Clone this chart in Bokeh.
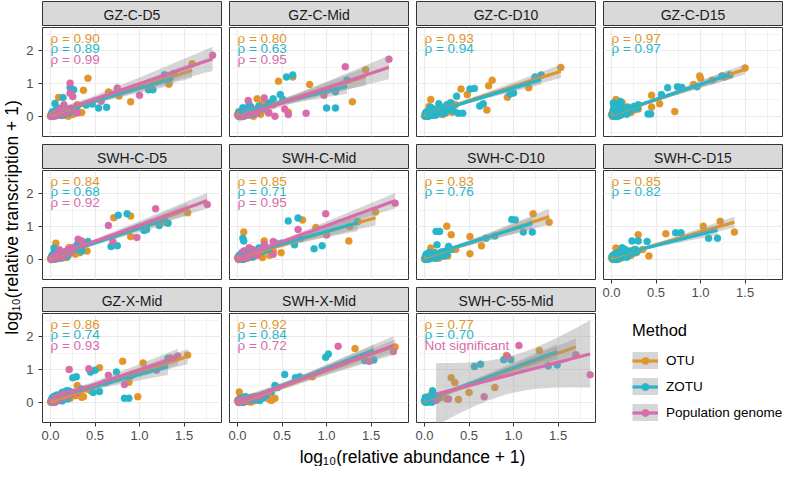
import math
import numpy as np
from bokeh.plotting import figure
from bokeh.models import (Range1d, FixedTicker, LinearAxis, Grid, Label, Legend,
                          LegendItem, NumeralTickFormatter)
from bokeh.layouts import row, column
from bokeh.embed import file_html
from bokeh.resources import INLINE

# ---------------- data ----------------
METHODS = ["OTU", "ZOTU", "Population genome"]
COLORS = ["#E3952A", "#27B5CA", "#D86BA9"]

X_TICKS = [0, 0.5, 1.0, 1.5]
X_MINOR = [0.25, 0.75, 1.25, 1.75]
Y_TICKS = [0, 1, 2]
Y_MINOR = [-0.5, 0.5, 1.5, 2.5]

# GZ-C-D5
GZ_C_D5_OTU_X = [1.59, 0.42, 0.65, 0.77, 0.90, 1.33, 0.37, 0.09, 0.35, 0.17, 0.00, 0.15, 0.05, 0.12, 0.20, 0.25, 0.03, 0.08, 0.30,
                 0.01, 0.02, 0.04, 0.06, 0.07, 0.10, 0.11, 0.13, 0.16, 0.18, 0.22, 0.26,
                 0.00, 0.01, 0.02, 0.02, 0.03, 0.04, 0.05, 0.06, 0.08, 0.09, 0.11, 0.14, 0.17, 0.21, 0.24]
GZ_C_D5_OTU_Y = [1.60, 1.16, 0.74, 0.62, 0.44, 0.98, 0.79, 0.57, 0.11, 0.03, 0.00, 0.27, 0.05, 0.10, 0.00, 0.05, 0.10, 0.20, 0.35,
                 0.03, 0.08, 0.02, 0.12, 0.04, 0.06, 0.15, 0.02, 0.09, 0.18, 0.10, 0.14,
                 0.01, 0.04, 0.00, 0.10, 0.06, 0.02, 0.09, 0.14, 0.05, 0.11, 0.07, 0.16, 0.12, 0.19, 0.22]
GZ_C_D5_ZOTU_X = [1.28, 1.38, 1.10, 1.15, 0.54, 0.63, 0.47, 0.40, 0.22, 0.26, 0.23, 0.05, 0.14, 0.04, 0.10, 0.17, 0.02, 0.08, 0.30, 0.12,
                  0.01, 0.03, 0.05, 0.06, 0.09, 0.11, 0.13, 0.15, 0.19, 0.21, 0.24, 0.28,
                  0.01, 0.01, 0.02, 0.03, 0.04, 0.05, 0.05, 0.07, 0.08, 0.10, 0.12, 0.13, 0.16, 0.19, 0.23]
GZ_C_D5_ZOTU_Y = [1.27, 1.30, 0.81, 0.81, 0.25, 0.27, 0.37, 0.34, 0.88, 0.81, 0.72, 0.39, 0.57, 0.13, 0.05, 0.17, 0.02, 0.25, 0.30, 0.10,
                  0.05, 0.00, 0.08, 0.18, 0.03, 0.12, 0.22, 0.06, 0.15, 0.10, 0.20, 0.25,
                  0.00, 0.07, 0.13, 0.03, 0.09, 0.01, 0.16, 0.05, 0.12, 0.08, 0.18, 0.04, 0.14, 0.10, 0.24]
GZ_C_D5_POP_X = [1.82, 0.22, 0.75, 1.00, 0.57, 0.22, 0.10, 0.05, 0.15, 0.30, 0.02, 0.25, 0.03, 0.07, 0.09, 0.12, 0.18, 0.20,
                 0.01, 0.04, 0.06, 0.08, 0.11, 0.14, 0.17, 0.23]
GZ_C_D5_POP_Y = [1.86, 1.01, 0.86, 0.64, 0.46, 0.70, 0.20, 0.08, 0.35, 0.10, 0.02, 0.60, 0.06, 0.02, 0.12, 0.08, 0.10, 0.22,
                 0.00, 0.05, 0.09, 0.04, 0.14, 0.10, 0.16, 0.20]
GZ_C_D5_RHO = ["0.90", "0.89", "0.99"]

# GZ-C-Mid
GZ_C_MID_OTU_X = [1.44, 1.29, 0.81, 0.46, 0.62, 0.22, 0.28, 0.57, 0.18, 0.02, 0.01, 0.30, 0.10, 0.14, 0.05, 0.40, 0.35,
                  0.03, 0.04, 0.06, 0.08, 0.12, 0.16, 0.20, 0.24, 0.26, 0.33,
                  0.00, 0.01, 0.03, 0.03, 0.04, 0.06, 0.07, 0.07, 0.09, 0.10, 0.12, 0.15, 0.18, 0.20, 0.26]
GZ_C_MID_OTU_Y = [1.42, 0.44, 0.97, 1.07, 1.20, 0.53, 0.38, 0.12, 0.00, 0.02, 0.13, 0.30, 0.05, 0.20, 0.08, 0.35, 0.12,
                  0.05, 0.15, 0.02, 0.10, 0.08, 0.03, 0.12, 0.25, 0.06, 0.18,
                  0.05, 0.00, 0.02, 0.12, 0.07, 0.04, 0.00, 0.15, 0.09, 0.03, 0.13, 0.08, 0.17, 0.11, 0.20]
GZ_C_MID_ZOTU_X = [1.23, 1.10, 1.00, 1.10, 0.55, 0.62, 0.48, 0.40, 0.51, 0.06, 0.13, 0.24, 0.03, 0.10, 0.18, 0.30, 0.35,
                   0.01, 0.02, 0.05, 0.07, 0.09, 0.12, 0.15, 0.20, 0.22, 0.27,
                   0.01, 0.02, 0.02, 0.04, 0.05, 0.06, 0.06, 0.08, 0.09, 0.11, 0.13, 0.15, 0.17, 0.22, 0.29]
GZ_C_MID_ZOTU_Y = [1.10, 0.75, 0.25, 0.25, 1.20, 1.26, 0.66, 0.53, 0.51, 0.26, 0.36, 0.31, 0.10, 0.15, 0.20, 0.25, 0.40,
                   0.02, 0.12, 0.05, 0.20, 0.08, 0.04, 0.28, 0.10, 0.18, 0.22,
                   0.03, 0.00, 0.08, 0.11, 0.04, 0.00, 0.13, 0.07, 0.17, 0.05, 0.10, 0.14, 0.06, 0.18, 0.24]
GZ_C_MID_POP_X = [1.70, 1.21, 0.97, 0.77, 0.57, 0.42, 0.53, 0.30, 0.12, 0.05, 0.20, 0.08, 0.15, 0.25, 0.35,
                  0.01, 0.03, 0.06, 0.10, 0.13, 0.17, 0.22, 0.27]
GZ_C_MID_POP_Y = [1.74, 1.51, 0.64, 0.09, 0.05, 0.00, 0.22, 0.56, 0.48, 0.05, 0.15, 0.10, 0.05, 0.20, 0.10,
                  0.02, 0.06, 0.00, 0.12, 0.08, 0.18, 0.10, 0.25]
GZ_C_MID_RHO = ["0.80", "0.63", "0.95"]

# GZ-C-D10
GZ_C_D10_OTU_X = [1.53, 1.17, 0.93, 0.70, 0.76, 0.72, 0.41, 0.48, 0.07, 0.29, 0.31, 0.10, 0.22, 0.02, 0.05, 0.15, 0.35, 0.18,
                  0.01, 0.03, 0.04, 0.06, 0.08, 0.09, 0.12, 0.14, 0.17, 0.20, 0.24, 0.27,
                  0.00, 0.01, 0.02, 0.02, 0.03, 0.04, 0.05, 0.06, 0.08, 0.09, 0.11, 0.14, 0.17, 0.21, 0.24]
GZ_C_D10_OTU_Y = [1.49, 0.87, 0.58, 0.19, 1.10, 0.93, 0.83, 0.66, 0.51, 0.41, 0.12, 0.05, 0.18, 0.02, 0.30, 0.10, 0.35, 0.25,
                  0.05, 0.12, 0.00, 0.08, 0.20, 0.03, 0.15, 0.07, 0.12, 0.05, 0.10, 0.22,
                  0.01, 0.04, 0.00, 0.10, 0.06, 0.02, 0.09, 0.14, 0.05, 0.11, 0.07, 0.16, 0.12, 0.19, 0.22]
GZ_C_D10_ZOTU_X = [1.31, 1.24, 1.00, 0.96, 0.66, 0.62, 0.43, 0.38, 0.51, 0.56, 0.36, 0.16, 0.02, 0.18, 0.07, 0.25, 0.12, 0.04, 0.30,
                   0.01, 0.03, 0.05, 0.06, 0.08, 0.10, 0.11, 0.14, 0.20, 0.22, 0.28, 0.33,
                   0.01, 0.01, 0.02, 0.03, 0.04, 0.05, 0.05, 0.07, 0.08, 0.10, 0.12, 0.13, 0.16, 0.19, 0.23]
GZ_C_D10_ZOTU_Y = [1.26, 1.20, 0.71, 0.68, 0.38, 0.31, 0.09, 0.09, 0.83, 0.85, 0.61, 0.38, 0.02, 0.17, 0.27, 0.35, 0.10, 0.15, 0.40,
                   0.08, 0.00, 0.05, 0.18, 0.10, 0.22, 0.03, 0.15, 0.25, 0.08, 0.20, 0.15,
                   0.00, 0.07, 0.13, 0.03, 0.09, 0.01, 0.16, 0.05, 0.12, 0.08, 0.18, 0.04, 0.14, 0.10, 0.24]
GZ_C_D10_RHO = ["0.93", "0.94"]

# GZ-C-D15
GZ_C_D15_OTU_X = [1.50, 1.27, 1.13, 0.99, 1.00, 0.92, 0.45, 0.54, 0.45, 0.71, 0.24, 0.05, 0.12, 0.08, 0.02, 0.18, 0.30,
                  0.01, 0.02, 0.03, 0.04, 0.06, 0.07, 0.09, 0.10, 0.13, 0.15, 0.22, 0.26,
                  0.00, 0.01, 0.03, 0.03, 0.04, 0.06, 0.07, 0.07, 0.09, 0.10, 0.12, 0.15, 0.18, 0.20, 0.26]
GZ_C_D15_OTU_Y = [1.47, 1.20, 1.10, 1.23, 1.16, 0.97, 0.64, 0.38, 0.28, 0.14, 0.19, 0.51, 0.41, 0.18, 0.02, 0.25, 0.22,
                  0.10, 0.05, 0.25, 0.00, 0.12, 0.30, 0.05, 0.20, 0.10, 0.15, 0.12, 0.30,
                  0.05, 0.00, 0.02, 0.12, 0.07, 0.04, 0.00, 0.15, 0.09, 0.03, 0.13, 0.08, 0.17, 0.11, 0.20]
GZ_C_D15_ZOTU_X = [1.33, 1.24, 0.96, 0.74, 0.79, 0.63, 0.56, 0.41, 0.44, 0.03, 0.05, 0.09, 0.16, 0.02, 0.20, 0.10,
                   0.01, 0.02, 0.04, 0.05, 0.06, 0.08, 0.11, 0.13, 0.14, 0.18, 0.25, 0.30,
                   0.01, 0.02, 0.02, 0.04, 0.05, 0.06, 0.06, 0.08, 0.09, 0.11, 0.13, 0.15, 0.17, 0.22, 0.29]
GZ_C_D15_ZOTU_Y = [1.26, 1.23, 0.90, 0.90, 0.88, 0.87, 0.66, 0.07, 0.07, 0.31, 0.12, 0.02, 0.22, 0.40, 0.15, 0.45,
                   0.05, 0.20, 0.10, 0.30, 0.00, 0.15, 0.25, 0.08, 0.18, 0.28, 0.30, 0.35,
                   0.03, 0.00, 0.08, 0.11, 0.04, 0.00, 0.13, 0.07, 0.17, 0.05, 0.10, 0.14, 0.06, 0.18, 0.24]
GZ_C_D15_RHO = ["0.97", "0.97"]

# SWH-C-D5
SWH_C_D5_OTU_X = [1.54, 0.90, 0.71, 0.90, 1.28, 0.41, 0.21, 0.06, 0.28, 0.01, 0.12, 0.18, 0.04, 0.35,
                  0.02, 0.03, 0.05, 0.07, 0.08, 0.10, 0.14, 0.16, 0.20, 0.24, 0.30, 0.33,
                  0.00, 0.01, 0.02, 0.02, 0.03, 0.04, 0.05, 0.06, 0.08, 0.09, 0.11, 0.14, 0.17, 0.21, 0.24]
SWH_C_D5_OTU_Y = [1.42, 0.69, 1.27, 1.32, 1.13, 0.25, 0.36, 0.49, 0.15, 0.00, 0.10, 0.05, 0.20, 0.30,
                  0.02, 0.08, 0.00, 0.12, 0.05, 0.20, 0.08, 0.15, 0.12, 0.22, 0.28, 0.20,
                  0.01, 0.04, 0.00, 0.10, 0.06, 0.02, 0.09, 0.14, 0.05, 0.11, 0.07, 0.16, 0.12, 0.19, 0.22]
SWH_C_D5_ZOTU_X = [0.76, 0.86, 1.05, 1.08, 1.22, 1.32, 0.68, 0.75, 0.42, 0.35, 0.04, 0.02, 0.08, 0.15, 0.25, 0.10, 0.30,
                   0.01, 0.03, 0.05, 0.06, 0.07, 0.09, 0.12, 0.13, 0.18, 0.21, 0.27, 0.32,
                   0.01, 0.01, 0.02, 0.03, 0.04, 0.05, 0.05, 0.07, 0.08, 0.10, 0.12, 0.13, 0.16, 0.19, 0.23]
SWH_C_D5_ZOTU_Y = [1.34, 1.39, 0.88, 0.91, 1.03, 1.10, 0.39, 0.41, 0.54, 0.25, 0.34, 0.05, 0.20, 0.15, 0.30, 0.10, 0.45,
                   0.00, 0.10, 0.05, 0.25, 0.15, 0.02, 0.08, 0.22, 0.18, 0.30, 0.35, 0.28,
                   0.00, 0.07, 0.13, 0.03, 0.09, 0.01, 0.16, 0.05, 0.12, 0.08, 0.18, 0.04, 0.14, 0.10, 0.24]
SWH_C_D5_POP_X = [1.76, 1.18, 0.97, 0.65, 0.31, 0.35, 0.70, 0.10, 0.15, 0.03, 0.20, 0.05, 0.08, 0.12, 0.18, 0.25,
                  0.01, 0.02, 0.04, 0.07, 0.11, 0.14, 0.19, 0.23]
SWH_C_D5_POP_Y = [1.67, 1.54, 0.66, 1.03, 0.61, 0.56, 0.54, 0.29, 0.20, 0.05, 0.30, 0.10, 0.15, 0.05, 0.25, 0.35,
                  0.00, 0.04, 0.08, 0.03, 0.12, 0.09, 0.18, 0.22]
SWH_C_D5_RHO = ["0.84", "0.68", "0.92"]

# SWH-C-Mid
SWH_C_MID_OTU_X = [0.07, 1.55, 1.25, 1.26, 0.88, 0.73, 0.49, 0.30, 0.22, 0.28, 0.02, 0.10, 0.15, 0.40,
                   0.01, 0.03, 0.04, 0.06, 0.08, 0.11, 0.13, 0.17, 0.19, 0.25, 0.33, 0.36,
                   0.00, 0.01, 0.03, 0.03, 0.04, 0.06, 0.07, 0.07, 0.09, 0.10, 0.12, 0.15, 0.18, 0.20, 0.26]
SWH_C_MID_OTU_Y = [0.83, 1.44, 0.56, 1.00, 0.97, 1.20, 0.20, 0.56, 0.26, 0.05, 0.00, 0.10, 0.30, 0.25,
                   0.05, 0.00, 0.10, 0.18, 0.03, 0.12, 0.05, 0.20, 0.10, 0.15, 0.30, 0.12,
                   0.05, 0.00, 0.02, 0.12, 0.07, 0.04, 0.00, 0.15, 0.09, 0.03, 0.13, 0.08, 0.17, 0.11, 0.20]
SWH_C_MID_ZOTU_X = [0.06, 0.07, 0.57, 0.68, 1.35, 0.86, 0.95, 0.64, 0.49, 0.71, 0.24, 0.03, 0.12, 0.18, 0.35, 0.42,
                    0.01, 0.02, 0.04, 0.05, 0.08, 0.09, 0.10, 0.14, 0.16, 0.20, 0.28, 0.31,
                    0.01, 0.02, 0.02, 0.04, 0.05, 0.06, 0.06, 0.08, 0.09, 0.11, 0.13, 0.15, 0.17, 0.22, 0.29]
SWH_C_MID_ZOTU_Y = [0.64, 0.56, 1.17, 1.26, 1.15, 0.32, 0.41, 0.44, 0.49, 0.64, 0.34, 0.05, 0.15, 0.25, 0.30, 0.50,
                    0.02, 0.12, 0.05, 0.20, 0.08, 0.25, 0.15, 0.10, 0.30, 0.18, 0.28, 0.40,
                    0.03, 0.00, 0.08, 0.11, 0.04, 0.00, 0.13, 0.07, 0.17, 0.05, 0.10, 0.14, 0.06, 0.18, 0.24]
SWH_C_MID_POP_X = [1.77, 0.99, 1.00, 0.68, 0.40, 0.40, 0.07, 0.13, 0.03, 0.20, 0.30, 0.05, 0.10, 0.16, 0.22, 0.26,
                   0.01, 0.02, 0.04, 0.08, 0.11, 0.14, 0.18, 0.24]
SWH_C_MID_POP_Y = [1.71, 1.39, 0.74, 0.91, 0.54, 0.15, 0.25, 0.35, 0.10, 0.20, 0.45, 0.15, 0.05, 0.30, 0.12, 0.28,
                   0.02, 0.00, 0.06, 0.10, 0.04, 0.13, 0.16, 0.21]
SWH_C_MID_RHO = ["0.85", "0.71", "0.95"]

# SWH-C-D10
SWH_C_D10_OTU_X = [1.22, 1.40, 0.25, 0.30, 0.51, 0.64, 0.51, 0.07, 0.02, 0.22, 0.12, 0.35, 0.18,
                   0.01, 0.03, 0.04, 0.05, 0.06, 0.08, 0.09, 0.10, 0.14, 0.16, 0.20, 0.26,
                   0.00, 0.01, 0.02, 0.02, 0.03, 0.04, 0.05, 0.06, 0.08, 0.09, 0.11, 0.14, 0.17, 0.21, 0.24]
SWH_C_D10_OTU_Y = [1.39, 1.13, 1.01, 0.75, 0.69, 0.41, 0.17, 0.34, 0.05, 0.10, 0.20, 0.30, 0.15,
                   0.00, 0.10, 0.04, 0.15, 0.02, 0.08, 0.20, 0.05, 0.12, 0.03, 0.18, 0.10,
                   0.01, 0.04, 0.00, 0.10, 0.06, 0.02, 0.09, 0.14, 0.05, 0.11, 0.07, 0.16, 0.12, 0.19, 0.22]
SWH_C_D10_ZOTU_X = [0.98, 1.02, 1.11, 1.21, 0.79, 0.69, 0.13, 0.17, 0.14, 0.27, 0.02, 0.22, 0.05, 0.10, 0.30, 0.25,
                    0.01, 0.02, 0.03, 0.04, 0.06, 0.07, 0.09, 0.11, 0.12, 0.15, 0.19, 0.24,
                    0.01, 0.01, 0.02, 0.03, 0.04, 0.05, 0.05, 0.07, 0.08, 0.10, 0.12, 0.13, 0.16, 0.19, 0.23]
SWH_C_D10_ZOTU_Y = [1.21, 1.20, 0.83, 0.83, 0.71, 0.64, 0.85, 0.85, 0.44, 0.39, 0.10, 0.10, 0.20, 0.05, 0.30, 0.15,
                    0.05, 0.15, 0.00, 0.10, 0.20, 0.08, 0.12, 0.18, 0.03, 0.10, 0.22, 0.15,
                    0.00, 0.07, 0.13, 0.03, 0.09, 0.01, 0.16, 0.05, 0.12, 0.08, 0.18, 0.04, 0.14, 0.10, 0.24]
SWH_C_D10_RHO = ["0.83", "0.76"]

# SWH-C-D15
SWH_C_D15_OTU_X = [1.22, 1.38, 1.03, 0.61, 0.30, 0.25, 0.42, 0.05, 0.03, 0.16, 0.10, 0.20, 0.35,
                   0.01, 0.02, 0.04, 0.05, 0.07, 0.08, 0.10, 0.12, 0.14, 0.18, 0.22, 0.28,
                   0.00, 0.01, 0.03, 0.03, 0.04, 0.06, 0.07, 0.07, 0.09, 0.10, 0.12, 0.15, 0.18, 0.20, 0.26]
SWH_C_D15_OTU_Y = [1.16, 0.83, 1.01, 0.78, 0.75, 0.29, 0.10, 0.34, 0.05, 0.20, 0.10, 0.15, 0.30,
                   0.02, 0.12, 0.06, 0.18, 0.00, 0.10, 0.22, 0.05, 0.15, 0.08, 0.12, 0.20,
                   0.05, 0.00, 0.02, 0.12, 0.07, 0.04, 0.00, 0.15, 0.09, 0.03, 0.13, 0.08, 0.17, 0.11, 0.20]
SWH_C_D15_ZOTU_X = [0.72, 0.78, 1.09, 1.19, 0.23, 0.30, 0.40, 0.16, 0.02, 0.08, 0.12, 0.05, 0.25,
                    0.01, 0.03, 0.04, 0.06, 0.07, 0.09, 0.10, 0.13, 0.15, 0.18, 0.20, 0.27,
                    0.01, 0.02, 0.02, 0.04, 0.05, 0.06, 0.06, 0.08, 0.09, 0.11, 0.13, 0.15, 0.17, 0.22, 0.29]
SWH_C_D15_ZOTU_Y = [0.81, 0.81, 0.64, 0.64, 0.56, 0.56, 0.54, 0.25, 0.05, 0.15, 0.35, 0.00, 0.20,
                    0.10, 0.02, 0.15, 0.08, 0.20, 0.05, 0.18, 0.12, 0.30, 0.10, 0.25, 0.30,
                    0.03, 0.00, 0.08, 0.11, 0.04, 0.00, 0.13, 0.07, 0.17, 0.05, 0.10, 0.14, 0.06, 0.18, 0.24]
SWH_C_D15_RHO = ["0.85", "0.82"]

# GZ-X-Mid
GZ_X_MID_OTU_X = [1.54, 0.81, 1.04, 0.98, 0.88, 0.55, 0.30, 0.37, 0.33, 0.01, 0.10, 0.20, 0.45, 0.40,
                  0.02, 0.03, 0.05, 0.06, 0.08, 0.12, 0.14, 0.16, 0.22, 0.25, 0.28, 0.35,
                  0.00, 0.01, 0.02, 0.02, 0.03, 0.04, 0.05, 0.06, 0.08, 0.09, 0.11, 0.14, 0.17, 0.21, 0.24]
GZ_X_MID_OTU_Y = [1.44, 1.25, 1.20, 0.17, 0.61, 1.05, 0.51, 0.17, 0.25, 0.00, 0.10, 0.20, 0.35, 0.40,
                  0.02, 0.08, 0.00, 0.12, 0.05, 0.15, 0.08, 0.18, 0.12, 0.25, 0.20, 0.15,
                  0.01, 0.04, 0.00, 0.10, 0.06, 0.02, 0.09, 0.14, 0.05, 0.11, 0.07, 0.16, 0.12, 0.19, 0.22]
GZ_X_MID_ZOTU_X = [0.90, 0.83, 0.88, 0.74, 0.50, 0.45, 0.29, 0.25, 0.55, 0.48, 0.05, 0.10, 0.15, 0.20, 0.35, 0.62, 1.32,
                   0.01, 0.02, 0.03, 0.04, 0.06, 0.07, 0.09, 0.12, 0.13, 0.17, 0.18, 0.22,
                   0.01, 0.01, 0.02, 0.03, 0.04, 0.05, 0.05, 0.07, 0.08, 0.10, 0.12, 0.13, 0.16, 0.19, 0.23]
GZ_X_MID_ZOTU_Y = [0.80, 0.12, 0.12, 0.92, 0.98, 0.92, 0.78, 0.75, 0.33, 0.30, 0.15, 0.20, 0.30, 0.35, 0.40, 0.60, 1.34,
                   0.05, 0.12, 0.02, 0.18, 0.10, 0.22, 0.15, 0.25, 0.30, 0.28, 0.35, 0.32,
                   0.00, 0.07, 0.13, 0.03, 0.09, 0.01, 0.16, 0.05, 0.12, 0.08, 0.18, 0.04, 0.14, 0.10, 0.24]
GZ_X_MID_POP_X = [0.21, 0.43, 0.65, 0.83, 1.19, 1.43, 0.05, 0.15, 0.30, 1.35, 0.02, 0.08, 0.10, 0.12, 0.20, 0.25,
                  0.01, 0.03, 0.04, 0.06, 0.09, 0.14, 0.17, 0.22]
GZ_X_MID_POP_Y = [1.00, 1.02, 0.82, 0.54, 0.98, 1.41, 0.10, 0.25, 0.30, 1.35, 0.05, 0.15, 0.12, 0.20, 0.25, 0.30,
                  0.02, 0.06, 0.00, 0.10, 0.08, 0.14, 0.18, 0.22]
GZ_X_MID_RHO = ["0.86", "0.74", "0.93"]

# SWH-X-Mid
SWH_X_MID_OTU_X = [1.32, 0.84, 0.02, 0.10, 0.42, 0.30, 0.20, 1.77, 0.05, 0.35,
                   0.01, 0.03, 0.06, 0.08, 0.12, 0.15, 0.18, 0.24, 0.27, 0.38,
                   0.00, 0.01, 0.03, 0.03, 0.04, 0.06, 0.07, 0.07, 0.09, 0.10, 0.12, 0.15, 0.18, 0.20, 0.26]
SWH_X_MID_OTU_Y = [1.64, 0.78, 0.31, 0.10, 0.12, 0.15, 0.05, 1.69, 0.00, 0.10,
                   0.05, 0.15, 0.02, 0.08, 0.12, 0.00, 0.10, 0.08, 0.15, 0.05,
                   0.05, 0.00, 0.02, 0.12, 0.07, 0.04, 0.00, 0.15, 0.09, 0.03, 0.13, 0.08, 0.17, 0.11, 0.20]
SWH_X_MID_ZOTU_X = [0.99, 1.02, 1.43, 1.53, 0.53, 0.42, 0.38, 0.25, 0.02, 0.10, 0.65, 0.70, 0.45, 0.15,
                    0.01, 0.03, 0.04, 0.06, 0.08, 0.12, 0.18, 0.20, 0.28, 0.32,
                    0.01, 0.02, 0.02, 0.04, 0.05, 0.06, 0.06, 0.08, 0.09, 0.11, 0.13, 0.15, 0.17, 0.22, 0.29]
SWH_X_MID_ZOTU_Y = [1.37, 1.47, 1.27, 1.29, 0.85, 0.51, 0.31, 0.05, 0.00, 0.10, 0.75, 0.78, 0.45, 0.10,
                    0.05, 0.10, 0.00, 0.08, 0.03, 0.05, 0.10, 0.15, 0.12, 0.20,
                    0.03, 0.00, 0.08, 0.11, 0.04, 0.00, 0.13, 0.07, 0.17, 0.05, 0.10, 0.14, 0.06, 0.18, 0.24]
SWH_X_MID_POP_X = [1.13, 1.48, 1.75, 0.05, 0.12, 0.02, 0.08, 0.20, 0.35, 0.01, 0.04, 0.10, 0.15, 0.26]
SWH_X_MID_POP_Y = [1.71, 1.25, 1.55, 0.05, 0.10, 0.00, 0.05, 0.15, 0.30, 0.02, 0.08, 0.03, 0.12, 0.20]
SWH_X_MID_RHO = ["0.92", "0.84", "0.72"]

# SWH-C-55-Mid
SWH_C_55_MID_OTU_X = [0.92, 1.29, 1.70, 0.30, 0.34, 0.50, 0.79, 0.38, 0.06, 0.10, 0.02, 0.15, 0.04,
                      0.01, 0.03, 0.05, 0.07, 0.08, 0.12, 0.20, 0.25,
                      0.00, 0.01, 0.02, 0.03, 0.04, 0.06, 0.09, 0.11, 0.14]
SWH_C_55_MID_OTU_Y = [1.43, 1.58, 1.43, 0.75, 0.60, 0.30, 0.45, 0.08, 0.20, 0.25, 0.05, 0.10, 0.10,
                      0.02, 0.08, 0.15, 0.05, 0.12, 0.20, 0.15, 0.10,
                      0.04, 0.00, 0.10, 0.06, 0.14, 0.03, 0.11, 0.07, 0.16]
SWH_C_55_MID_ZOTU_X = [0.56, 0.63, 0.89, 0.97, 1.39, 1.49, 0.09, 0.02, 0.05, 0.08, 0.01, 0.12, 0.04, 0.10,
                       0.00, 0.02, 0.03, 0.04, 0.06, 0.07, 0.09, 0.11, 0.13, 0.15,
                       0.01, 0.02, 0.03, 0.05, 0.06, 0.08, 0.10, 0.12]
SWH_C_55_MID_ZOTU_Y = [1.09, 1.16, 1.30, 1.30, 1.11, 1.14, 0.35, 0.05, 0.10, 0.00, 0.15, 0.20, 0.02, 0.08,
                       0.05, 0.10, 0.00, 0.12, 0.05, 0.15, 0.02, 0.10, 0.06, 0.12,
                       0.01, 0.06, 0.13, 0.03, 0.09, 0.16, 0.04, 0.18]
SWH_C_55_MID_POP_X = [0.13, 0.27, 0.67, 0.93, 1.06, 1.70, 1.86]
SWH_C_55_MID_POP_Y = [0.08, 0.10, 0.17, 1.40, 1.73, 1.45, 0.84]
SWH_C_55_MID_RHO = ["0.77", "0.70", "Not significant"]

PANEL_NAMES = ["GZ-C-D5", "GZ-C-Mid", "GZ-C-D10", "GZ-C-D15",
               "SWH-C-D5", "SWH-C-Mid", "SWH-C-D10", "SWH-C-D15",
               "GZ-X-Mid", "SWH-X-Mid", "SWH-C-55-Mid"]

PANEL_SERIES = [
    [(GZ_C_D5_OTU_X, GZ_C_D5_OTU_Y), (GZ_C_D5_ZOTU_X, GZ_C_D5_ZOTU_Y), (GZ_C_D5_POP_X, GZ_C_D5_POP_Y)],
    [(GZ_C_MID_OTU_X, GZ_C_MID_OTU_Y), (GZ_C_MID_ZOTU_X, GZ_C_MID_ZOTU_Y), (GZ_C_MID_POP_X, GZ_C_MID_POP_Y)],
    [(GZ_C_D10_OTU_X, GZ_C_D10_OTU_Y), (GZ_C_D10_ZOTU_X, GZ_C_D10_ZOTU_Y), None],
    [(GZ_C_D15_OTU_X, GZ_C_D15_OTU_Y), (GZ_C_D15_ZOTU_X, GZ_C_D15_ZOTU_Y), None],
    [(SWH_C_D5_OTU_X, SWH_C_D5_OTU_Y), (SWH_C_D5_ZOTU_X, SWH_C_D5_ZOTU_Y), (SWH_C_D5_POP_X, SWH_C_D5_POP_Y)],
    [(SWH_C_MID_OTU_X, SWH_C_MID_OTU_Y), (SWH_C_MID_ZOTU_X, SWH_C_MID_ZOTU_Y), (SWH_C_MID_POP_X, SWH_C_MID_POP_Y)],
    [(SWH_C_D10_OTU_X, SWH_C_D10_OTU_Y), (SWH_C_D10_ZOTU_X, SWH_C_D10_ZOTU_Y), None],
    [(SWH_C_D15_OTU_X, SWH_C_D15_OTU_Y), (SWH_C_D15_ZOTU_X, SWH_C_D15_ZOTU_Y), None],
    [(GZ_X_MID_OTU_X, GZ_X_MID_OTU_Y), (GZ_X_MID_ZOTU_X, GZ_X_MID_ZOTU_Y), (GZ_X_MID_POP_X, GZ_X_MID_POP_Y)],
    [(SWH_X_MID_OTU_X, SWH_X_MID_OTU_Y), (SWH_X_MID_ZOTU_X, SWH_X_MID_ZOTU_Y), (SWH_X_MID_POP_X, SWH_X_MID_POP_Y)],
    [(SWH_C_55_MID_OTU_X, SWH_C_55_MID_OTU_Y), (SWH_C_55_MID_ZOTU_X, SWH_C_55_MID_ZOTU_Y), (SWH_C_55_MID_POP_X, SWH_C_55_MID_POP_Y)],
]
PANEL_RHO = [GZ_C_D5_RHO, GZ_C_MID_RHO, GZ_C_D10_RHO, GZ_C_D15_RHO,
             SWH_C_D5_RHO, SWH_C_MID_RHO, SWH_C_D10_RHO, SWH_C_D15_RHO,
             GZ_X_MID_RHO, SWH_X_MID_RHO, SWH_C_55_MID_RHO]

X_TITLE = "log\u2081\u2080(relative abundance + 1)"
Y_TITLE = "log\u2081\u2080(relative transcription + 1)"
LEGEND_TITLE = "Method"

# ---------------- styling / geometry ----------------
FONT = "Liberation Sans"
X_RANGE = (-0.09, 1.92)
Y_RANGE = (-0.62, 2.71)
FW, FH, SH = 179, 109, 25
AX_LEFT, AX_BOTTOM = 20, 24
GAP = 6
RHO_Y = [2.386, 2.062, 1.738]   # label line positions (top-left of each panel)


def t975(df):
    z = 1.959964
    return (z + (z**3 + z) / (4 * df) + (5 * z**5 + 16 * z**3 + 3 * z) / (96 * df**2)
            + (3 * z**7 + 19 * z**5 + 17 * z**3 - 15 * z) / (384 * df**3))


def lm_fit(xs, ys):
    x = np.asarray(xs, float)
    y = np.asarray(ys, float)
    n = len(x)
    xb, yb = x.mean(), y.mean()
    sxx = ((x - xb) ** 2).sum()
    b = ((x - xb) * (y - yb)).sum() / sxx
    a = yb - b * xb
    s = math.sqrt(((y - a - b * x) ** 2).sum() / (n - 2))
    gx = np.linspace(x.min(), x.max(), 80)
    fy = a + b * gx
    se = s * np.sqrt(1.0 / n + (gx - xb) ** 2 / sxx) * t975(n - 2)
    return gx, fy, fy - se, fy + se


def base_fig(fw, fh, left, right, top, bottom, **kw):
    p = figure(frame_width=fw, frame_height=fh, toolbar_location=None, output_backend="svg",
               x_axis_location=None, y_axis_location=None,
               min_border_left=left, min_border_right=right, min_border_top=top,
               min_border_bottom=bottom, border_fill_color="white", **kw)
    p.grid.visible = False
    return p


def make_strip(name, left):
    s = base_fig(FW, SH, left, 1, 1, 0, x_range=Range1d(0, 1), y_range=Range1d(0, 1),
                 background_fill_color="#D9D9D9", outline_line_color="#333333",
                 outline_line_width=1)
    s.add_layout(Label(x=0.5, y=0.45, text=name, text_align="center", text_baseline="middle",
                       text_font=FONT, text_font_size="14px", text_color="#1A1A1A"))
    return s


def style_axis(ax):
    ax.axis_line_color = None
    ax.major_tick_line_color = "#333333"
    ax.major_tick_out = 4
    ax.major_tick_in = 0
    ax.minor_tick_line_color = None
    ax.major_label_text_font = FONT
    ax.major_label_text_font_size = "13px"
    ax.major_label_text_color = "#4D4D4D"
    ax.major_label_standoff = 5


def make_panel(idx, show_y, show_x):
    p = base_fig(FW, FH, AX_LEFT if show_y else 1, 1, 1, AX_BOTTOM if show_x else 1,
                 x_range=Range1d(*X_RANGE), y_range=Range1d(*Y_RANGE),
                 background_fill_color="white", outline_line_color="#333333",
                 outline_line_width=1)
    for dim, maj, mnr in ((0, X_TICKS, X_MINOR), (1, Y_TICKS, Y_MINOR)):
        p.add_layout(Grid(dimension=dim, ticker=FixedTicker(ticks=maj, minor_ticks=mnr),
                          grid_line_color="#EBEBEB", grid_line_width=1.2,
                          minor_grid_line_color="#EBEBEB", minor_grid_line_width=0.6), "center")
    if show_y:
        ya = LinearAxis(ticker=FixedTicker(ticks=Y_TICKS), formatter=NumeralTickFormatter(format="0"))
        style_axis(ya)
        p.add_layout(ya, "left")
    if show_x:
        xa = LinearAxis(ticker=FixedTicker(ticks=X_TICKS), formatter=NumeralTickFormatter(format="0.0"))
        style_axis(xa)
        xa.major_label_standoff = 4
        p.add_layout(xa, "below")

    series = PANEL_SERIES[idx]
    for k, s in enumerate(series):
        if s is None:
            continue
        p.scatter(x=s[0], y=s[1], size=7, fill_color=COLORS[k], line_color=COLORS[k], line_width=0.5)
    for k, s in enumerate(series):
        if s is None:
            continue
        gx, fy, lo, hi = lm_fit(s[0], s[1])
        p.varea(x=gx, y1=lo, y2=hi, fill_color="#999999", fill_alpha=0.4)
        p.line(x=gx, y=fy, line_color=COLORS[k], line_width=3.2)
    for k, txt in enumerate(PANEL_RHO[idx]):
        label = txt if txt.startswith("Not") else "\u03c1 = " + txt
        p.add_layout(Label(x=0, y=RHO_Y[k], text=label, text_align="left", text_baseline="middle",
                           text_font=FONT, text_font_size="13.5px", text_color=COLORS[k]))
    return p


def make_legend():
    lg = base_fig(151, 112, 30, 0, 12, 0, x_range=Range1d(0, 1), y_range=Range1d(0, 1),
                  background_fill_color="white", outline_line_color=None)
    items = []
    nan = [float("nan")]
    for k, m in enumerate(METHODS):
        r0 = lg.line(x=nan, y=nan, line_color="#D6D6D6", line_width=26)
        r1 = lg.line(x=nan, y=nan, line_color=COLORS[k], line_width=3.2)
        r2 = lg.scatter(x=nan, y=nan, size=7, fill_color=COLORS[k], line_color=COLORS[k])
        items.append(LegendItem(label=m, renderers=[r0, r1, r2]))
    legend = Legend(items=items, location="top_left", title=LEGEND_TITLE, margin=0, padding=0,
                    spacing=9, glyph_width=26, glyph_height=17, label_height=17,
                    label_standoff=8, title_standoff=12, border_line_color=None,
                    background_fill_alpha=0, label_text_font=FONT, label_text_font_size="13.5px",
                    label_text_color="#000000", title_text_font=FONT, title_text_font_size="16.5px",
                    title_text_font_style="normal", title_text_color="#000000")
    lg.add_layout(legend, "center")
    return lg


# panel index grid: rows x cols
GRID = [[0, 1, 2, 3], [4, 5, 6, 7], [8, 9, 10, None]]

cols = []
for c in range(4):
    blocks = []
    for r in range(3):
        idx = GRID[r][c]
        if idx is None:
            continue
        show_y = (c == 0)
        below_empty = (r + 1 < 3 and GRID[r + 1][c] is None)
        show_x = (r == 2) or below_empty
        strip = make_strip(PANEL_NAMES[idx], AX_LEFT if show_y else 1)
        panel = make_panel(idx, show_y, show_x)
        blocks.append(column(strip, panel, spacing=0))
    if c == 3:
        blocks.append(make_legend())
    cols.append(column(*blocks, spacing=GAP))

panels_row = row(*cols, spacing=GAP)

total_w = (AX_LEFT + FW + 1) + 3 * (FW + 2) + 3 * GAP
xt = figure(width=total_w, height=20, x_range=Range1d(0, total_w), y_range=Range1d(0, 20),
            toolbar_location=None, output_backend="svg", x_axis_location=None,
            y_axis_location=None, min_border=0, outline_line_color=None)
xt.grid.visible = False
frame_center = AX_LEFT + (total_w - AX_LEFT - 1) / 2
xt.add_layout(Label(x=frame_center, y=10, text=X_TITLE, text_align="center",
                    text_baseline="middle", text_font=FONT, text_font_size="17.5px",
                    text_color="#000000"))

col_h = 3 * (SH + 1) + 3 * (FH + 2) + AX_BOTTOM - 1 + 2 * GAP
yt_h = col_h - AX_BOTTOM
yt = figure(width=22, height=yt_h, x_range=Range1d(0, 22),
            y_range=Range1d(0, yt_h), toolbar_location=None, output_backend="svg",
            x_axis_location=None, y_axis_location=None, min_border=0, outline_line_color=None)
yt.grid.visible = False
yt.add_layout(Label(x=11, y=yt_h - 217, text=Y_TITLE, angle=math.pi / 2,
                    text_align="center", text_baseline="middle", text_font=FONT,
                    text_font_size="17.5px", text_color="#000000"))

layout = row(yt, column(panels_row, xt, spacing=0), spacing=0)

open("out.html", "w").write(file_html(layout, INLINE))
